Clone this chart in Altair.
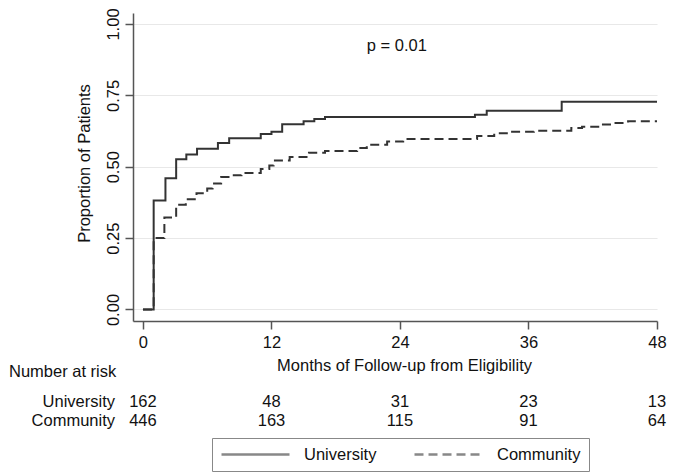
import altair as alt
import pandas as pd

# ---- data ----
groups = ["University", "Community"]

univ_months = [0, 1.0, 2.1, 3.1, 4.05, 5.05, 7.0, 8.05, 11.0, 12.0, 13.0, 15.0, 16.0, 17.0, 31.0, 32.1, 39.1, 48.0]
univ_prop = [0, 0.382, 0.460, 0.526, 0.543, 0.563, 0.583, 0.600, 0.615, 0.623, 0.649, 0.659, 0.667, 0.674, 0.682, 0.696, 0.728, 0.728]

comm_months = [0, 1.0, 2.0, 3.1, 4.0, 5.0, 6.0, 6.5, 7.3, 8.3, 9.2, 11.0, 11.8, 12.2, 13.7, 15.5, 17.0,
               20.0, 20.9, 22.8, 24.3, 31.2, 32.8, 34.3, 36.5, 40.0, 41.0, 42.8, 44.0, 45.3, 48.0]
comm_prop = [0, 0.250, 0.322, 0.367, 0.386, 0.407, 0.424, 0.441, 0.464, 0.470, 0.478, 0.492, 0.504, 0.522, 0.534, 0.549, 0.555,
             0.566, 0.577, 0.588, 0.597, 0.608, 0.617, 0.623, 0.626, 0.636, 0.640, 0.648, 0.653, 0.659, 0.659]

risk_months = [0, 12, 24, 36, 48]
univ_risk = [162, 48, 31, 23, 13]
comm_risk = [446, 163, 115, 91, 64]

x_ticks = [0, 12, 24, 36, 48]
y_ticks = [0, 0.25, 0.5, 0.75, 1.0]

p_text = "p = 0.01"
p_month = 20.9
p_prop = 0.905

FONT = "Liberation Sans"
FS = 16.5
INK = "#111111"

# ---- tables ----
curve_df = pd.concat([
    pd.DataFrame({"group": groups[0], "month": univ_months, "prop": univ_prop}),
    pd.DataFrame({"group": groups[1], "month": comm_months, "prop": comm_prop}),
], ignore_index=True)

x_scale = alt.Scale(domain=[-0.93, 48.0], nice=False, zero=False)
y_scale = alt.Scale(domain=[-0.0403, 1.0385], nice=False, zero=False)

x_axis = alt.Axis(values=x_ticks, grid=False, domainColor="#555555", domainWidth=1.5,
                  tickColor="#555555", tickWidth=1.5, tickSize=8, labelFontSize=FS, labelFont=FONT,
                  labelColor=INK, labelPadding=5, labelFlush=False,
                  title="Months of Follow-up from Eligibility", titleFontSize=FS, titleFont=FONT,
                  titleFontWeight="normal", titleColor=INK, titleX=271, titleY=36,
                  titleBaseline="top", titleAlign="center")

y_axis = alt.Axis(values=y_ticks, format=".2f", grid=True, gridColor="#e8e8e8", gridWidth=1.2,
                  domainColor="#555555", domainWidth=1.5, tickColor="#555555", tickWidth=1.5,
                  tickSize=8, labelFontSize=FS, labelFont=FONT, labelColor=INK, labelAngle=270,
                  labelAlign="center", labelBaseline="bottom", labelPadding=4, labelFlush=False,
                  labelOverlap=False,
                  title="Proportion of Patients", titleFontSize=FS, titleFont=FONT,
                  titleFontWeight="normal", titleColor=INK, titleAngle=270, titleX=-40.5, titleY=150,
                  titleBaseline="bottom", titleAlign="center")

legend = alt.Legend(orient="none", legendX=79, legendY=425, direction="horizontal", columns=2,
                    title=None, symbolType="stroke", symbolSize=4624, symbolStrokeWidth=2.5,
                    symbolStrokeColor="#888888", labelFontSize=FS, labelFont=FONT, labelColor=INK,
                    labelOffset=13, columnPadding=36, padding=8, strokeColor="#888888",
                    clipHeight=17)

curves = alt.Chart(curve_df).mark_line(interpolate="step-after", strokeWidth=2, color="#333333").encode(
    x=alt.X("month:Q", scale=x_scale, axis=x_axis),
    y=alt.Y("prop:Q", scale=y_scale, axis=y_axis),
    strokeDash=alt.StrokeDash("group:N",
                              scale=alt.Scale(domain=groups, range=[[1, 0], [9, 5]]),
                              legend=legend),
)

p_df = pd.DataFrame({"month": [p_month], "prop": [p_prop], "t": [p_text]})
p_layer = alt.Chart(p_df).mark_text(align="left", baseline="alphabetic", font=FONT,
                                    fontSize=FS, color=INK).encode(
    x="month:Q", y="prop:Q", text="t:N")

header_df = pd.DataFrame({"t": ["Number at risk"]})
header = alt.Chart(header_df).mark_text(align="left", baseline="alphabetic", font=FONT,
                                        fontSize=FS, color=INK).encode(
    x=alt.value(-124), y=alt.value(364), text="t:N")

layers = [curves, p_layer, header]
row_y = [393.7, 413]
for g, counts, yy in zip(groups, [univ_risk, comm_risk], row_y):
    lab_df = pd.DataFrame({"t": [g]})
    layers.append(alt.Chart(lab_df).mark_text(align="right", baseline="alphabetic", font=FONT,
                                              fontSize=FS, color=INK).encode(
        x=alt.value(-18), y=alt.value(yy), text="t:N"))
    num_df = pd.DataFrame({"month": risk_months, "n": counts})
    layers.append(alt.Chart(num_df).mark_text(align="center", baseline="alphabetic", font=FONT,
                                              fontSize=FS, color=INK).encode(
        x="month:Q", y=alt.value(yy), text="n:Q"))

chart = alt.layer(*layers).properties(
    width=524, height=308,
    autosize=alt.AutoSizeParams(type="none"),
    padding={"left": 125, "top": 5, "right": 10, "bottom": 153},
    background="white",
).configure_view(stroke=None)

chart.save("out.html", embed_options={"renderer": "svg", "actions": False})
